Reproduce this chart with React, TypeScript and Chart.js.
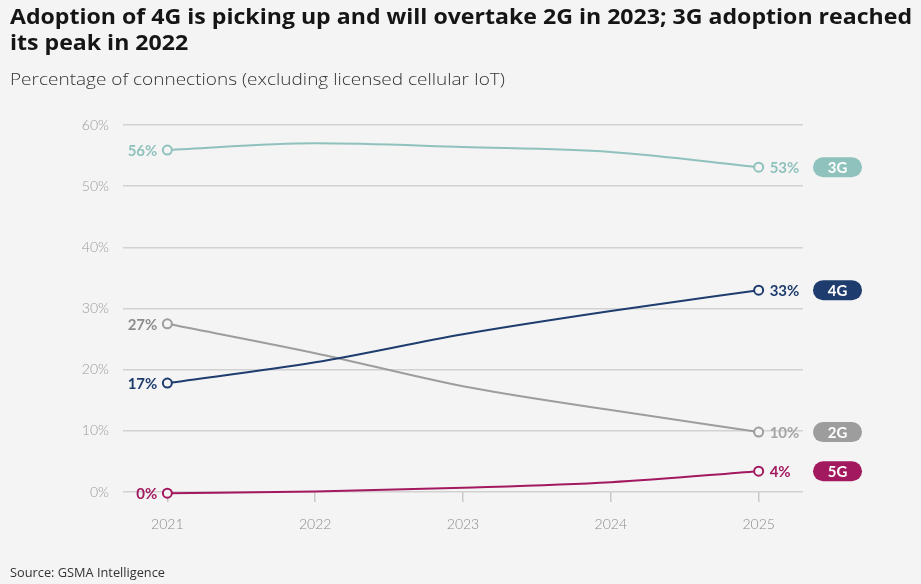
import React, { useEffect, useRef } from "react";
import { Chart, registerables } from "chart.js";

Chart.register(...registerables);

const years = [2021, 2022, 2023, 2024, 2025];
const series3G = [55.9, 57.0, 56.4, 55.6, 53.1];
const series4G = [17.8, 21.2, 25.8, 29.6, 33.0];
const series2G = [27.5, 22.7, 17.3, 13.4, 9.8];
const series5G = [-0.2, 0.1, 0.7, 1.6, 3.4];
const seriesNames = ["3G", "4G", "2G", "5G"];
const seriesColors = ["#8fc2bd", "#1f3c6e", "#9d9d9d", "#a3195f"];
const startLabels = ["56%", "17%", "27%", "0%"];
const endLabels = ["53%", "33%", "10%", "4%"];
const yTicks = [0, 10, 20, 30, 40, 50, 60];

const TITLE_1 = "Adoption of 4G is picking up and will overtake 2G in 2023; 3G adoption reached";
const TITLE_2 = "its peak in 2022";
const SUBTITLE = "Percentage of connections (excluding licensed cellular IoT)";
const SOURCE = "Source: GSMA Intelligence";
const BG = "#f4f4f4";

function fitText(ctx: CanvasRenderingContext2D, text: string, x: number, y: number, width: number, refText?: string) {
  const w = ctx.measureText(refText || text).width;
  const s = width / w;
  ctx.save();
  ctx.translate(x, y);
  ctx.scale(s, 1);
  ctx.fillText(text, 0, 0);
  ctx.restore();
}

export default function App() {
  const ref = useRef<HTMLCanvasElement | null>(null);

  useEffect(() => {
    const canvas = ref.current;
    if (!canvas) return;
    const allSeries = [series3G, series4G, series2G, series5G];

    const textPlugin = {
      id: "texts",
      beforeDraw(chart: any) {
        const ctx = chart.ctx;
        ctx.save();
        ctx.fillStyle = BG;
        ctx.fillRect(0, 0, chart.width, chart.height);
        ctx.restore();
      },
      afterDraw(chart: any) {
        const ctx = chart.ctx as CanvasRenderingContext2D;
        ctx.save();
        ctx.textBaseline = "alphabetic";
        ctx.textAlign = "left";
        ctx.fillStyle = "#151515";
        ctx.font = "bold 21px 'Open Sans'";
        fitText(ctx, TITLE_1, 10, 24, 902, TITLE_1);
        fitText(ctx, TITLE_2, 10, 50, 902, TITLE_1);
        ctx.fillStyle = "#333333";
        ctx.font = "300 17px 'Open Sans'";
        fitText(ctx, SUBTITLE, 10, 85, 495);
        ctx.font = "13px 'Open Sans'";
        ctx.fillStyle = "#333333";
        fitText(ctx, SOURCE, 10, 577, 155);
        ctx.restore();
      },
      afterDatasetsDraw(chart: any) {
        const ctx = chart.ctx;
        ctx.save();
        ctx.textBaseline = "middle";
        chart.data.datasets.forEach((ds: any, i: number) => {
          const meta = chart.getDatasetMeta(i);
          const pts = meta.data;
          const first = pts[0];
          const last = pts[pts.length - 1];
          const color = seriesColors[i];
          ctx.font = "bold 15px Lato";
          ctx.fillStyle = i === 2 ? "#8c8c8c" : color;
          ctx.textAlign = "right";
          ctx.fillText(startLabels[i], first.x - 10, first.y + 1);
          ctx.fillStyle = i === 2 ? "#a5a5a5" : color;
          ctx.textAlign = "left";
          ctx.fillText(endLabels[i], last.x + 11, last.y + 1);
          const px = 813, pw = 49, ph = 20;
          const py = last.y - ph / 2;
          ctx.fillStyle = color;
          ctx.beginPath();
          (ctx as any).roundRect(px, py, pw, ph, 10);
          ctx.fill();
          ctx.fillStyle = "#ffffff";
          ctx.textAlign = "center";
          ctx.font = "bold 15px Lato";
          ctx.fillText(seriesNames[i], px + pw / 2, last.y + 1);
        });
        ctx.restore();
      },
    };

    const chart = new Chart(canvas, {
      type: "line",
      data: {
        datasets: allSeries.map((s, i) => ({
          label: seriesNames[i],
          data: s.map((v, j) => ({ x: years[j], y: v })),
          borderColor: seriesColors[i],
          backgroundColor: BG,
          borderWidth: 2,
          pointRadius: s.map((_, j) => (j === 0 || j === s.length - 1 ? 4.5 : 0)),
          pointBorderWidth: 2,
          pointBackgroundColor: BG,
          pointBorderColor: seriesColors[i],
          cubicInterpolationMode: "monotone" as const,
          clip: false as any,
        })),
      },
      options: {
        animation: false,
        responsive: false,
        layout: { padding: { left: 0, right: 118, top: 125, bottom: 42 } },
        plugins: {
          legend: { display: false },
          tooltip: { enabled: false },
          title: { display: false },
        },
        scales: {
          x: {
            type: "linear",
            min: 2020.7,
            max: 2025.3,
            afterBuildTicks: (axis: any) => {
              axis.ticks = years.map((y) => ({ value: y }));
            },
            afterFit: (axis: any) => {
              axis.height = 50;
            },
            grid: {
              drawOnChartArea: false,
              drawTicks: true,
              tickLength: 10,
              color: "#c8c8c8",
              lineWidth: 1.5,
            },
            border: { display: false },
            ticks: {
              color: "#8a8a8a",
              font: { family: "Lato", size: 14, weight: 300 as any },
              padding: 14,
              callback: (v: any) => String(v),
            },
          },
          y: {
            min: 0,
            max: 60,
            afterBuildTicks: (axis: any) => {
              axis.ticks = yTicks.map((v) => ({ value: v }));
            },
            afterFit: (axis: any) => {
              axis.width = 123;
            },
            grid: {
              drawTicks: false,
              color: "#d2d2d2",
              lineWidth: 1.5,
            },
            border: { display: false },
            ticks: {
              color: "#9a9a9a",
              font: { family: "Lato", size: 14, weight: 300 as any },
              padding: 14,
              callback: (v: any) => v + "%",
            },
          },
        },
      },
      plugins: [textPlugin],
    });
    return () => chart.destroy();
  }, []);

  return (
    <div style={{ position: "fixed", left: 0, top: 0, width: 921, height: 584, background: BG }}>
      <canvas ref={ref} width={921} height={584} style={{ display: "block" }} />
    </div>
  );
}
